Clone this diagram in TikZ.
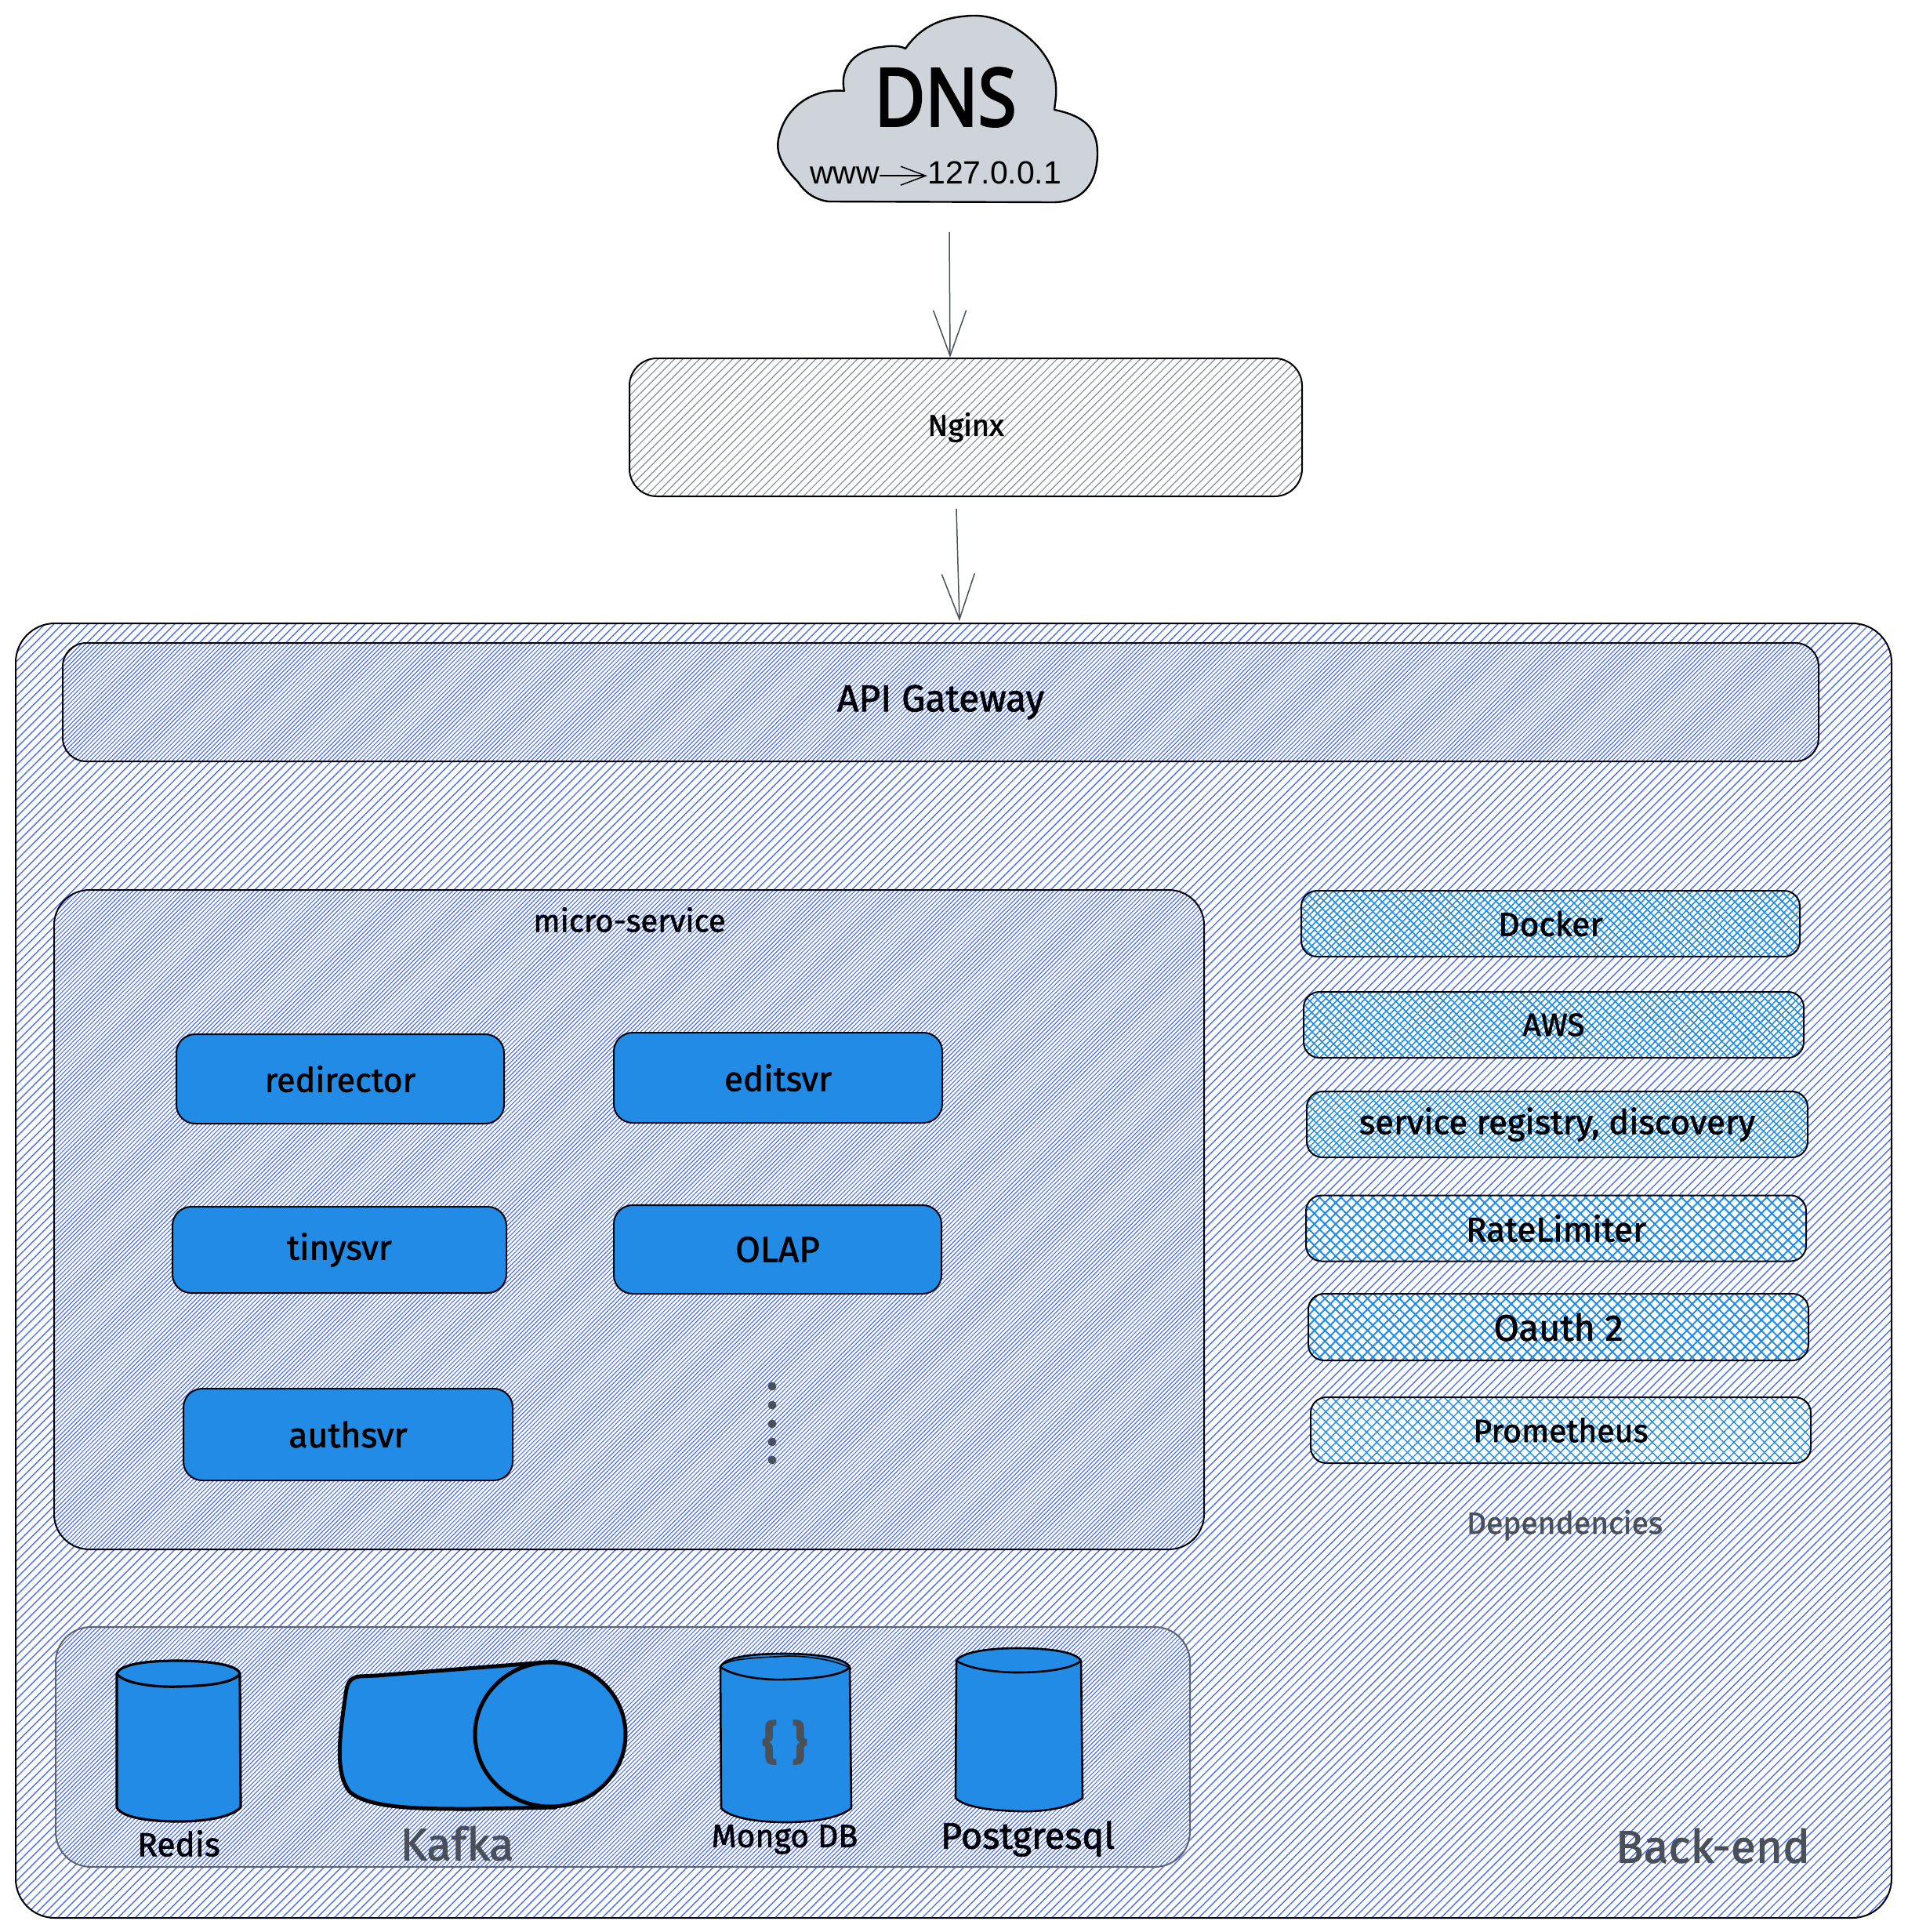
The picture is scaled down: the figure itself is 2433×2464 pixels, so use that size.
\documentclass[tikz,border=0pt]{standalone}
\usepackage{fontspec}
\setmainfont{Fira Sans}[FakeBold=1.5]
\newfontfamily\hf{Liberation Sans}
\newfontfamily\df{Noto Sans}[FakeBold=3]
\usetikzlibrary{patterns.meta,arrows.meta}
\definecolor{hatch}{HTML}{4C6EF5}
\definecolor{sky}{HTML}{228BE6}
\definecolor{ink}{HTML}{000000}
\definecolor{slate}{HTML}{495057}
\definecolor{mist}{HTML}{CED4DA}
\definecolor{steel}{HTML}{868E96}
\newcommand{\fs}[1]{\fontsize{#1}{#1}\selectfont}
\tikzset{
  x=1pt,y=-1pt,
  label text/.style={font=\fs{#1},text=ink,inner sep=0pt},
  label grey/.style={font=\fs{#1},text=slate,inner sep=0pt},
  stroke/.style={draw=ink,line width=2pt},
  hach/.style args={#1/#2/#3/#4}{preaction={pattern={Lines[angle=#1,distance=#2pt,line width=#3pt]},pattern color=#4}},
  panel/.style={stroke,rounded corners=#1,inner sep=0pt,preaction={fill=white},hach=45/3.9/1.15/hatch},
  outerbox/.style={stroke,rounded corners=50pt,inner sep=0pt,hach=45/7.8/1.4/hatch},
  plainbox/.style={stroke,rounded corners=35pt,hach=45/7.5/1.2/steel},
  svc/.style={stroke,fill=sky,rounded corners=24pt},
  dep/.style args={#1/#2/#3}{stroke,rounded corners=20pt,preaction={fill=white},
     hach=45/#1/#3/sky,hach=-45/#2/#3/sky},
  conn/.style={draw=slate,line width=1.5pt,-{Straight Barb[length=58pt,width=42pt,line width=1.5pt]}},
  cyl/.style={draw=ink,line width=3.2pt,fill=sky,line join=round},
}
\begin{document}
\begin{tikzpicture}
\path[use as bounding box,fill=white] (0,0) rectangle (2433,2464);

% cloud
\path[draw=ink,line width=2.4pt,fill=mist,line join=round]
 (1057,257) .. controls (1040,255) and (1026,245) .. (1018,232)
 .. controls (998,212) and (988,195) .. (994,173)
 .. controls (1002,138) and (1035,112) .. (1077,116)
 .. controls (1070,85) and (1093,62) .. (1125,60)
 .. controls (1135,58) and (1148,58) .. (1155,62)
 .. controls (1172,38) and (1195,22) .. (1240,20)
 .. controls (1290,18) and (1345,65) .. (1347,110)
 .. controls (1348,122) and (1346,130) .. (1345,140)
 .. controls (1385,148) and (1400,165) .. (1400,195)
 .. controls (1400,235) and (1380,258) .. (1343,258)
 -- cycle;
\node[font=\df\fs{102},text=ink,inner sep=0pt] (dnstitle) at (1206,124) {\scalebox{0.87}[1]{DNS}};
\node[font=\hf\fs{41},text=ink,inner sep=0pt,anchor=base west] (www) at (1033,235) {www};
\node[font=\hf\fs{41},text=ink,inner sep=0pt,anchor=base west] (ip) at (1183,235) {127.0.0.1};
\draw[draw=ink,line width=1.5pt,-{Straight Barb[length=32pt,width=24pt,line width=1.5pt]}] (www.east) -- (www.east -| ip.west);

% nginx
\node[plainbox,label text=38,minimum width=858pt,minimum height=176pt] (nginx) at (1232,545) {Nginx};
\coordinate (dnsout) at (1211,296);
\coordinate (nginxin) at (1212,456);
\coordinate (nginxout) at (1220,649);
\coordinate (backin) at (1224,792);
\draw[conn] (dnsout) -- (nginxin);

% outer
\node[outerbox,minimum width=2393pt,minimum height=1651pt] (backend) at (1216.5,1620.5) {};
\draw[conn] (nginxout) -- (backin);

% gateway
\node[panel=30pt,label text=48,minimum width=2240pt,minimum height=151pt] (gateway) at (1200,895.5) {\raisebox{-4pt}{API Gateway}};

% micro-service
\node[panel=45pt,minimum width=1467pt,minimum height=841pt] (micro) at (802.5,1555.5) {};
\node[label text=40] (microlabel) at (803,1173) {micro-service};
\node[svc,label text=43,minimum width=418pt,minimum height=114pt] (redirector) at (434,1376) {redirector};
\node[svc,label text=44,minimum width=419pt,minimum height=115pt] (editsvr) at (992.5,1374.5) {editsvr};
\node[svc,label text=44,minimum width=426pt,minimum height=110pt] (tinysvr) at (433,1594) {tinysvr};
\node[svc,label text=46,minimum width=418pt,minimum height=113pt] (olap) at (992,1593.5) {OLAP};
\node[svc,label text=44.5,minimum width=420pt,minimum height=117pt] (authsvr) at (444,1829.5) {authsvr};
\foreach \yy in {1768,1792,1816,1839,1862} \fill[slate] (985,\yy) circle (5.5pt);

% dependencies
\node[dep=6/8.6/1.6,label text=42.5,minimum width=636pt,minimum height=84pt] (docker) at (1978,1178) {Docker};
\node[dep=6/8.6/1.6,label text=41,minimum width=638pt,minimum height=84pt] (aws) at (1982,1307) {AWS};
\node[dep=5.2/9/1.4,label text=43.5,minimum width=639pt,minimum height=84pt] (registry) at (1986.5,1434) {service registry, discovery};
\node[dep=9.6/9.6/2,label text=44,minimum width=638pt,minimum height=84pt] (ratelimiter) at (1985,1566.5) {RateLimiter};
\node[dep=9.6/9.6/2,label text=47,minimum width=638pt,minimum height=85pt] (oauth) at (1988,1692.5) {Oauth 2};
\node[dep=9.2/9.2/1.4,label text=41,minimum width=638pt,minimum height=84pt] (prometheus) at (1991,1824) {Prometheus};
\node[label grey=39] (deps) at (1996,1945) {Dependencies};

% storage
\node[panel=45pt,draw=steel!70!black,minimum width=1447pt,minimum height=306pt] (storage) at (794.5,2228) {};

% redis
\path[cyl] (149,2135) .. controls (152,2122) and (190,2118) .. (225,2118)
  .. controls (260,2118) and (304,2122) .. (306,2135) -- (307,2305)
  .. controls (295,2318) and (260,2323) .. (228,2323)
  .. controls (190,2323) and (155,2318) .. (149,2305) -- cycle;
\path[draw=ink,line width=3.2pt] (149,2135) .. controls (160,2148) and (200,2152) .. (228,2151)
  .. controls (260,2150) and (295,2148) .. (306,2135);
\node[label text=42.5] (redislabel) at (228,2351) {Redis};

% kafka
\path[draw=ink,line width=5pt,fill=sky,line join=round] (709,2119) -- (480,2137) -- (458,2138)
  .. controls (445,2140) and (443,2148) .. (441,2160)
  .. controls (434,2210) and (426,2260) .. (446,2285)
  .. controls (470,2307) and (540,2307) .. (600,2307) -- (709,2305) -- cycle;
\path[draw=ink,line width=5pt,fill=sky] (702,2212) ellipse [x radius=96,y radius=92];
\node[label grey=58] (kafkalabel) at (583,2351) {Kafka};

% mongo
\path[cyl,line width=2.6pt] (919,2126) .. controls (925,2112) and (965,2109) .. (1000,2109)
  .. controls (1040,2109) and (1078,2114) .. (1084,2126) -- (1086,2306)
  .. controls (1072,2318) and (1040,2324) .. (1002,2324)
  .. controls (965,2324) and (930,2318) .. (920,2306) -- cycle;
\path[draw=ink,line width=2.6pt] (919,2126) .. controls (935,2138) and (975,2143) .. (1000,2142)
  .. controls (1040,2141) and (1075,2137) .. (1084,2126);
\path[draw=ink,line width=1.6pt] (923,2122) .. controls (940,2114) and (975,2114) .. (1005,2112)
  .. controls (1040,2112) and (1075,2120) .. (1086,2129);
\node[font=\bfseries\fs{58},text=slate,inner sep=0pt] (braces) at (1001,2222) {\{\,\,\}};
\node[label text=41] (mongolabel) at (1001,2346) {Mongo DB};

% postgres
\path[cyl,line width=2.6pt] (1220,2118) .. controls (1228,2106) and (1265,2102) .. (1298,2102)
  .. controls (1335,2102) and (1372,2106) .. (1379,2118) -- (1381,2293)
  .. controls (1365,2306) and (1330,2311) .. (1300,2310)
  .. controls (1265,2309) and (1230,2305) .. (1219,2293) -- cycle;
\path[draw=ink,line width=2.6pt] (1220,2118) .. controls (1235,2128) and (1270,2133) .. (1298,2133)
  .. controls (1335,2133) and (1368,2128) .. (1379,2118);
\node[label text=47] (pglabel) at (1311,2345) {Postgresql};

\node[label grey=58.5] (backlabel) at (2185,2354) {Back-end};
\end{tikzpicture}
\end{document}
